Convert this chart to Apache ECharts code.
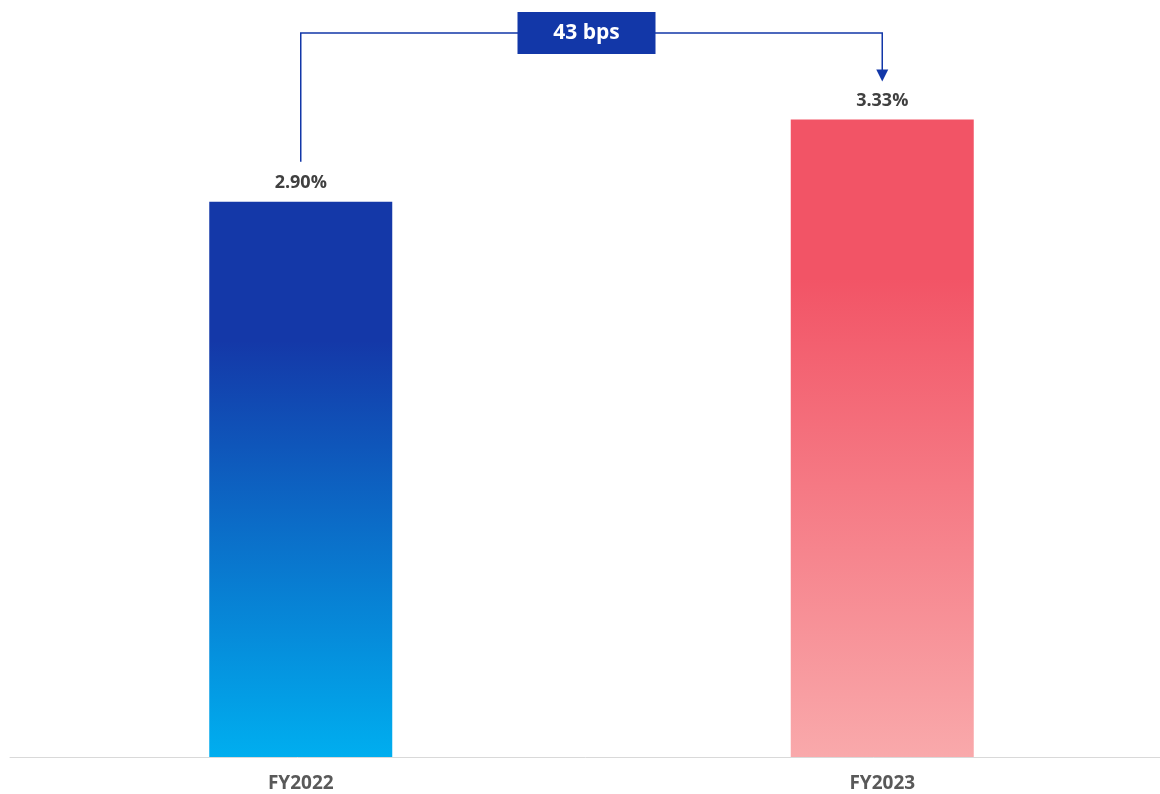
<!DOCTYPE html>
<html>
<head>
<meta charset="utf-8">
<script src="https://cdn.jsdelivr.net/npm/echarts@6/dist/echarts.min.js"></script>
<style>
html,body{margin:0;padding:0;background:#fff;}
#main{width:1160px;height:794px;}
</style>
</head>
<body>
<div id="main"></div>
<script>
const categories = ['FY2022', 'FY2023'];
const values = [2.90, 3.33];
const valueLabels = ['2.90%', '3.33%'];
const deltaLabel = '43 bps';

const FONT = '"Open Sans", "Noto Sans", sans-serif';
const ACCENT = '#1237a8';

const barColors = [
  new echarts.graphic.LinearGradient(0, 0, 0, 1, [
    {offset: 0, color: '#1438a8'},
    {offset: 0.25, color: '#1438a8'},
    {offset: 1, color: '#00aeef'}
  ]),
  new echarts.graphic.LinearGradient(0, 0, 0, 1, [
    {offset: 0, color: '#f25466'},
    {offset: 0.25, color: '#f25466'},
    {offset: 1, color: '#f9a9ab'}
  ])
];

const chart = echarts.init(document.getElementById('main'), null, {renderer: 'canvas'});
chart.setOption({
  animation: false,
  backgroundColor: '#ffffff',
  grid: {left: 10, right: -13, top: 87, bottom: 37, containLabel: false, outerBoundsMode: 'none'},
  xAxis: {
    type: 'category',
    data: categories,
    axisLine: {show: true, lineStyle: {color: '#d9d9d9', width: 1}},
    axisTick: {show: false},
    axisLabel: {color: '#595959', fontFamily: FONT, fontWeight: 'bold', fontSize: 19, margin: 17}
  },
  yAxis: {
    type: 'value', min: 0, max: 3.5,
    show: false
  },
  series: [{
    type: 'bar',
    barWidth: 183,
    data: values.map((v, i) => ({value: v, itemStyle: {color: barColors[i]}})),
    label: {
      show: true, position: 'top', distance: 10,
      formatter: p => valueLabels[p.dataIndex],
      color: '#404040', fontFamily: FONT, fontWeight: 'bold', fontSize: 18
    }
  }]
});

// Annotation bracket drawn from the bars' pixel positions
const p0 = chart.convertToPixel({seriesIndex: 0}, [0, values[0]]);
const p1 = chart.convertToPixel({seriesIndex: 0}, [1, values[1]]);
const bracketY = 33;
const leftBottom = p0[1] - 40;
const arrowTip = p1[1] - 38;
const boxX = (p0[0] + p1[0]) / 2 - 5;
chart.setOption({
  graphic: [
    {type: 'polyline', shape: {points: [[p0[0], leftBottom], [p0[0], bracketY], [p1[0], bracketY], [p1[0], arrowTip - 11]]},
     style: {stroke: ACCENT, lineWidth: 1.5, fill: null}, z: 10},
    {type: 'polygon', shape: {points: [[p1[0] - 6, arrowTip - 12], [p1[0] + 6, arrowTip - 12], [p1[0], arrowTip]]},
     style: {fill: ACCENT}, z: 10},
    {type: 'rect', shape: {x: boxX - 69, y: 12, width: 138, height: 42},
     style: {fill: ACCENT}, z: 11},
    {type: 'text', x: boxX, y: 33, z: 12,
     style: {text: deltaLabel, fill: '#ffffff', font: 'bold 21px ' + FONT, textAlign: 'center', textVerticalAlign: 'middle'}}
  ]
});
</script>
</body>
</html>
